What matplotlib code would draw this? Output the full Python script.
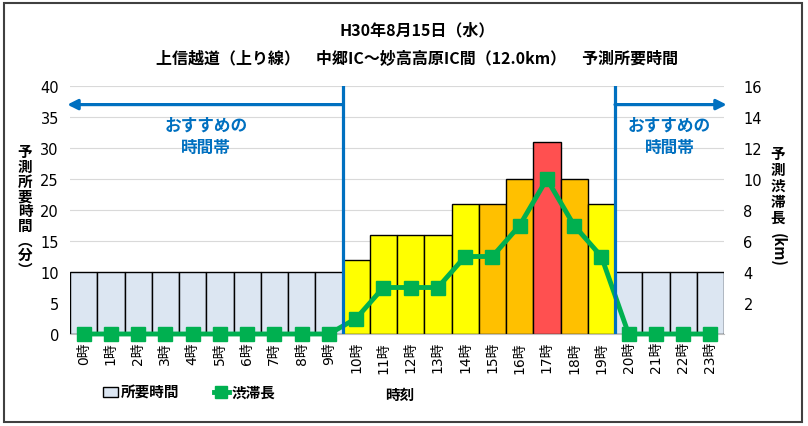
import numpy as np
import matplotlib.pyplot as plt
from matplotlib.patches import Patch, Rectangle
from matplotlib.lines import Line2D

plt.rcParams['font.family'] = ['Noto Sans CJK JP', 'DejaVu Sans']

hours = list(range(24))
hour_labels = [f"{h}時" for h in hours]
minutes = [10, 10, 10, 10, 10, 10, 10, 10, 10, 10,
           12, 16, 16, 16, 21, 21, 25, 31, 25, 21,
           10, 10, 10, 10]
jam_km = [0, 0, 0, 0, 0, 0, 0, 0, 0, 0,
          1, 3, 3, 3, 5, 5, 7, 10, 7, 5,
          0, 0, 0, 0]
bar_colors = ['#DCE6F2'] * 10 + ['#FFFF00'] * 5 + ['#FFC000'] * 2 + ['#FF5050'] + ['#FFC000'] + ['#FFFF00'] + ['#DCE6F2'] * 4
rec_am = hours[:10]    # おすすめの時間帯 (午前)
rec_pm = hours[20:]    # おすすめの時間帯 (午後)

title1 = "H30年8月15日（水）"
title2 = "上信越道（上り線）　中郷IC～妙高高原IC間（12.0km）　予測所要時間"

blue = '#0070C0'
green = '#00B050'
num_font = ['DejaVu Sans', 'Noto Sans CJK JP']

fig = plt.figure(figsize=(8.08, 4.27), dpi=100)
ax = fig.add_axes([70 / 808, 1 - 335 / 427, 654 / 808, 248 / 427])

ax.bar(hours, minutes, width=1.0, color=bar_colors, edgecolor='black', linewidth=1.0, zorder=2)
ax.set_xlim(-0.5, 23.5)
ax.set_ylim(0, 40)
ax.set_yticks(np.arange(0, 41, 5))
ax.grid(axis='y', color='#D9D9D9', linewidth=0.8, zorder=0)
ax.set_axisbelow(True)
for s in ['top', 'left', 'right']:
    ax.spines[s].set_visible(False)
ax.spines['bottom'].set_color('#BFBFBF')
ax.tick_params(axis='y', length=0, labelsize=10.5, pad=8)
ax.tick_params(axis='x', length=0, pad=5)
ax.set_xticks(hours)
ax.set_xticklabels(hour_labels, rotation=90, fontsize=10, family=num_font)
for t in ax.get_yticklabels():
    t.set_family(num_font)

ax2 = ax.twinx()
ax2.plot(hours, jam_km, color=green, linewidth=3.5, marker='s', markersize=10, zorder=5, clip_on=False)
ax2.set_ylim(0, 16)
ax2.set_yticks(np.arange(2, 17, 2))
ax2.tick_params(axis='y', length=0, labelsize=10.5, pad=14)
for t in ax2.get_yticklabels():
    t.set_family(num_font)
for s in ax2.spines.values():
    s.set_visible(False)

# recommended time band markers
b_left = rec_am[-1] + 0.5
b_right = rec_pm[0] - 0.5
for b in (b_left, b_right):
    ax2.axvline(b, color=blue, linewidth=2.3, zorder=6)
ax2.annotate('', xy=(rec_am[0] - 0.6, 14.8), xytext=(b_left, 14.8), annotation_clip=False,
             arrowprops=dict(arrowstyle='-|>', color=blue, lw=2.3, mutation_scale=15, shrinkA=0, shrinkB=0))
ax2.annotate('', xy=(rec_pm[-1] + 0.6, 14.8), xytext=(b_right, 14.8), annotation_clip=False,
             arrowprops=dict(arrowstyle='-|>', color=blue, lw=2.3, mutation_scale=15, shrinkA=0, shrinkB=0))
for grp in (rec_am, rec_pm):
    ax2.text(np.mean(grp), 12.8, "おすすめの\n時間帯", color=blue, fontsize=12, fontweight='bold',
             ha='center', va='center', linespacing=1.3, zorder=7)

# titles
fig.text(417 / 808, 1 - 30 / 427, title1, ha='center', va='center', fontsize=11.5, fontweight='bold')
fig.text(417 / 808, 1 - 58 / 427, title2, ha='center', va='center', fontsize=11.5, fontweight='bold')

# axis labels (vertical)
fig.text(25 / 808, 1 - 211 / 427, "予\n測\n所\n要\n時\n間\n︵\n分\n︶", ha='center', va='center',
         fontsize=10.5, fontweight='bold', linespacing=0.9)
fig.text(778 / 808, 1 - 186 / 427, "予\n測\n渋\n滞\n長", ha='center', va='center',
         fontsize=10.5, fontweight='bold', linespacing=1.0)
fig.text(778 / 808, 1 - 250 / 427, "(km)", ha='center', va='center', rotation=-90,
         fontsize=10.5, fontweight='bold')

# legend
handles = [Patch(facecolor='#DCE6F2', edgecolor='black', linewidth=1.0),
           Line2D([0], [0], color=green, linewidth=3.5, marker='s', markersize=8)]
fig.legend(handles, ['所要時間', '渋滞長'], loc='center left', bbox_to_anchor=(90 / 808, 1 - 393 / 427),
           ncol=2, frameon=False, prop=dict(weight='bold', size=10.5), handlelength=1.0,
           handletextpad=0.2, columnspacing=2.4)
fig.text(400 / 808, 1 - 395 / 427, "時刻", ha='center', va='center', fontsize=10.5, fontweight='bold')

# outer frame
fig.patches.append(Rectangle((4 / 808, 4 / 427), 798 / 808, 419 / 427, transform=fig.transFigure,
                             fill=False, edgecolor='#404040', linewidth=1.5))

fig.savefig('out.png', dpi=100)
